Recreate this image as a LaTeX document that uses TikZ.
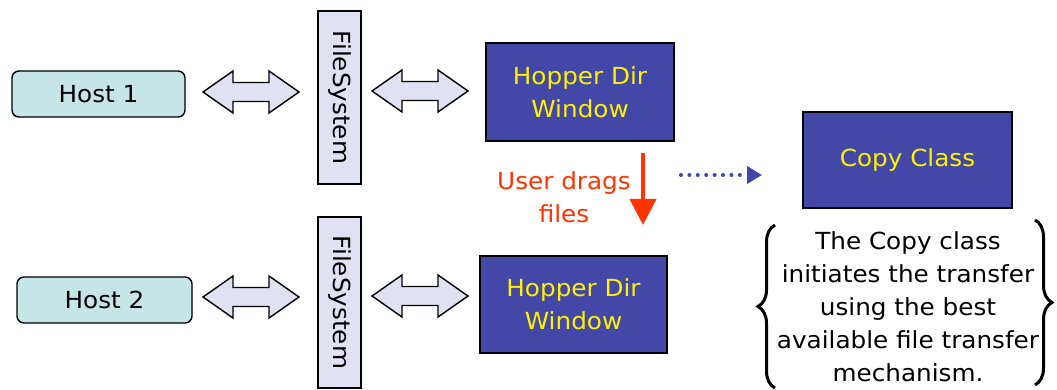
\documentclass[tikz,border=0pt]{standalone}
\usepackage{fontspec}
\setmainfont{DejaVu Sans}[FakeStretch=1.05]
\usetikzlibrary{arrows.meta,decorations.pathreplacing,calc}
\definecolor{hostfill}{HTML}{C5E5E7}
\definecolor{lav}{HTML}{E0E1F2}
\definecolor{boxblue}{HTML}{4347A8}
\definecolor{dragred}{HTML}{FF3300}
\begin{document}
\begin{tikzpicture}[x=1pt,y=-1pt,
  every node/.style={font=\fontsize{23.5}{33}\selectfont},
  host/.style={draw=black, line width=1.4pt, fill=hostfill, rounded corners=7pt, minimum height=46pt, inner sep=0pt},
  fsbar/.style={draw=black, line width=1.4pt, fill=lav, rotate=-90, minimum height=43pt, inner sep=0pt},
  bluebox/.style={draw=black, line width=2.2pt, fill=boxblue, text=yellow, align=center, inner sep=0pt},
  dblarrow/.pic={\draw[line width=1.4pt, fill=lav, line join=miter] (-48,0) -- (-18,-21) -- (-18,-9.5) -- (18,-9.5) -- (18,-21) -- (48,0) -- (18,21) -- (18,9.5) -- (-18,9.5) -- (-18,21) -- cycle;},
  dragarrow/.style={draw=dragred, line width=4pt, -{Triangle[length=26pt,width=26pt]}},
  dotarrow/.style={draw=boxblue, line width=4pt, line cap=round, dash pattern=on 0pt off 8.4pt, -{Triangle[length=15pt,width=17pt]}},
  bracestyle/.style={line width=3pt, decorate, decoration={brace, amplitude=17pt}}
]
\useasboundingbox (0,0) rectangle (1057,390);

% hosts
\node[host, minimum width=173pt] (host1) at (98.5,94) {Host 1};
\node[host, minimum width=175pt] (host2) at (104.5,300) {Host 2};

% file system bars
\node[fsbar, minimum width=173pt] (fs1) at (339.5,97.5) {FileSystem};
\node[fsbar, minimum width=171pt] (fs2) at (339.5,302.5) {FileSystem};

% hopper windows
\node[bluebox, minimum width=188pt, minimum height=98pt] (hop1) at (580,92) {Hopper Dir\\Window};
\node[bluebox, minimum width=187pt, minimum height=97pt] (hop2) at (573.5,304.5) {Hopper Dir\\Window};

% copy class
\node[bluebox, minimum width=209pt, minimum height=96pt] (copy) at (907.5,160) {Copy Class};

% double block arrows
\pic at (251,92) {dblarrow};
\pic at (420,91) {dblarrow};
\pic at (251,297) {dblarrow};
\pic at (420,296) {dblarrow};

% user drags
\coordinate (dragS) at (643,153);
\coordinate (dragE) at (643,225);
\draw[dragarrow] (dragS) -- (dragE);
\node[text=dragred, align=center] (draglbl) at (564,197) {User drags\\files};

% dotted arrow
\coordinate (dotS) at (681,175);
\coordinate (dotE) at (762,175);
\draw[dotarrow] (dotS) -- (dotE);

% description with braces
\node[align=center] (desc) at (908,307) {The Copy class\\initiates the transfer\\using the best\\available file transfer\\mechanism.};
\coordinate (lbB) at (775,388);
\coordinate (lbT) at (775,225);
\coordinate (rbT) at (1035,220);
\coordinate (rbB) at (1035,385);
\draw[bracestyle] (lbB) -- (lbT);
\draw[bracestyle] (rbT) -- (rbB);
\end{tikzpicture}
\end{document}
